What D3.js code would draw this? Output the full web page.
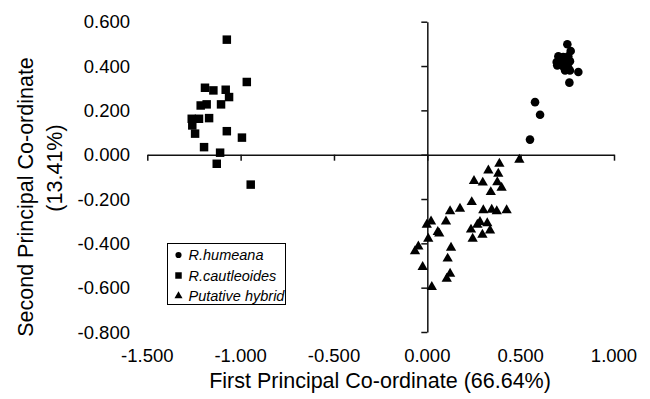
<!DOCTYPE html>
<html>
<head>
<meta charset="utf-8">
<script src="https://cdn.jsdelivr.net/npm/d3@7"></script>
<style>
  body { margin: 0; background: #fff; }
  text { font-family: "Liberation Sans", Arial, sans-serif; fill: #000; }
</style>
</head>
<body>
<div id="chart"></div>
<script>
// R. humeana (circles)
var humeana = [
    [0.750, 0.498], [0.768, 0.468], [0.702, 0.444], [0.728, 0.440], [0.755, 0.444],
    [0.693, 0.418], [0.720, 0.418], [0.743, 0.422], [0.764, 0.422], [0.696, 0.403],
    [0.728, 0.398], [0.755, 0.393], [0.738, 0.380], [0.764, 0.380], [0.809, 0.373],
    [0.761, 0.325], [0.577, 0.237], [0.604, 0.180], [0.550, 0.068]
];
// R. cautleoides (squares)
var cautleoides = [
    [-1.074, 0.519], [-0.967, 0.328], [-1.191, 0.302], [-1.146, 0.290], [-1.080, 0.293],
    [-1.062, 0.260], [-1.214, 0.222], [-1.182, 0.227], [-1.105, 0.227], [-1.262, 0.162],
    [-1.223, 0.162], [-1.169, 0.165], [-1.259, 0.132], [-1.244, 0.095], [-1.074, 0.106],
    [-0.993, 0.077], [-1.196, 0.034], [-1.110, 0.009], [-1.128, -0.041], [-0.946, -0.135]
];
// putative hybrids (triangles)
var hybrid = [
    [0.493, -0.023], [0.386, -0.041], [0.327, -0.071], [0.380, -0.086], [0.250, -0.119],
    [0.297, -0.126], [0.375, -0.124], [0.398, -0.149], [0.340, -0.169], [0.238, -0.214],
    [0.175, -0.244], [0.122, -0.255], [0.300, -0.251], [0.345, -0.248], [0.372, -0.255],
    [0.425, -0.251], [0.100, -0.301], [0.020, -0.301], [-0.003, -0.316], [0.282, -0.304],
    [0.321, -0.309], [0.268, -0.316], [0.056, -0.349], [0.064, -0.356], [0.234, -0.338],
    [0.336, -0.342], [0.295, -0.361], [0.243, -0.379], [0.005, -0.379], [-0.048, -0.414],
    [-0.066, -0.436], [0.127, -0.420], [0.109, -0.469], [-0.025, -0.507], [0.122, -0.537],
    [0.104, -0.560], [0.024, -0.597]
];

var xTicks = [-1.5, -1.0, -0.5, 0, 0.5, 1.0];
var xTickLabels = ["-1.500", "-1.000", "-0.500", "0.000", "0.500", "1.000"];
var yTicks = [0.6, 0.4, 0.2, 0, -0.2, -0.4, -0.6, -0.8];
var yTickLabels = ["0.600", "0.400", "0.200", "0.000", "-0.200", "-0.400", "-0.600", "-0.800"];

var groups = [
    {name: "R.humeana",       data: humeana,     symbol: d3.symbolCircle,   size: 58, legendSize: 30},
    {name: "R.cautleoides",   data: cautleoides, symbol: d3.symbolSquare,   size: 72, legendSize: 42},
    {name: "Putative hybrid", data: hybrid,      symbol: d3.symbolTriangle, size: 46, legendSize: 28}
];

var svg = d3.select("#chart")
    .append("svg")
    .attr("width", 650)
    .attr("height", 399);

// scales
var x = d3.scaleLinear().domain([-1.5, 1.0]).range([147.3, 614]);
var y = d3.scaleLinear().domain([-0.8, 0.6]).range([332, 21.7]);

// x axis crosses at y = 0
svg.append("g")
    .attr("transform", "translate(0," + y(0) + ")")
    .call(d3.axisBottom(x).tickValues(xTicks).tickSize(6).tickSizeOuter(0).tickFormat(""))
    .call(function (g) { g.selectAll("path, line").attr("stroke", "#111").attr("stroke-width", 1.5); });

// y axis crosses at x = 0
svg.append("g")
    .attr("transform", "translate(" + x(0) + ",0)")
    .call(d3.axisLeft(y).tickValues(yTicks).tickSize(6).tickSizeOuter(0).tickFormat(""))
    .call(function (g) { g.selectAll("path, line").attr("stroke", "#111").attr("stroke-width", 1.5); });

// tick labels on the outside of the plot
svg.append("g").selectAll("text")
    .data(xTicks)
    .enter()
    .append("text")
    .attr("x", function (d) { return x(d); })
    .attr("y", 362)
    .attr("text-anchor", "middle")
    .attr("font-size", 18.5)
    .text(function (d, i) { return xTickLabels[i]; });

svg.append("g").selectAll("text")
    .data(yTicks)
    .enter()
    .append("text")
    .attr("x", 130)
    .attr("y", function (d) { return y(d) + 6.5; })
    .attr("text-anchor", "end")
    .attr("font-size", 18.5)
    .text(function (d, i) { return yTickLabels[i]; });

// axis titles
svg.append("text")
    .attr("x", 380)
    .attr("y", 388)
    .attr("text-anchor", "middle")
    .attr("font-size", 21.5)
    .text("First Principal Co-ordinate (66.64%)");

svg.append("text")
    .attr("transform", "translate(33,197) rotate(-90)")
    .attr("text-anchor", "middle")
    .attr("font-size", 21.5)
    .text("Second Principal Co-ordinate");

svg.append("text")
    .attr("transform", "translate(62,168) rotate(-90)")
    .attr("text-anchor", "middle")
    .attr("font-size", 21.5)
    .text("(13.41%)");

// points
groups.forEach(function (grp) {
    svg.append("g").selectAll("path")
        .data(grp.data)
        .enter()
        .append("path")
        .attr("d", d3.symbol().type(grp.symbol).size(grp.size))
        .attr("transform", function (d) { return "translate(" + x(d[0]) + "," + y(d[1]) + ")"; })
        .attr("fill", "#000");
});

// legend
var legend = svg.append("g").attr("transform", "translate(167.5,243.5)");
legend.append("rect")
    .attr("width", 118)
    .attr("height", 61)
    .attr("fill", "#fff")
    .attr("stroke", "#000")
    .attr("stroke-width", 1);

var items = legend.selectAll("g.item")
    .data(groups)
    .enter()
    .append("g")
    .attr("transform", function (d, i) { return "translate(11," + (11.5 + i * 20.5) + ")"; });

items.append("path")
    .attr("d", function (d) { return d3.symbol().type(d.symbol).size(d.legendSize)(); })
    .attr("fill", "#000");

items.append("text")
    .attr("x", 10)
    .attr("y", 5)
    .attr("font-size", 14.5)
    .attr("font-style", "italic")
    .text(function (d) { return d.name; });
</script>
</body>
</html>
